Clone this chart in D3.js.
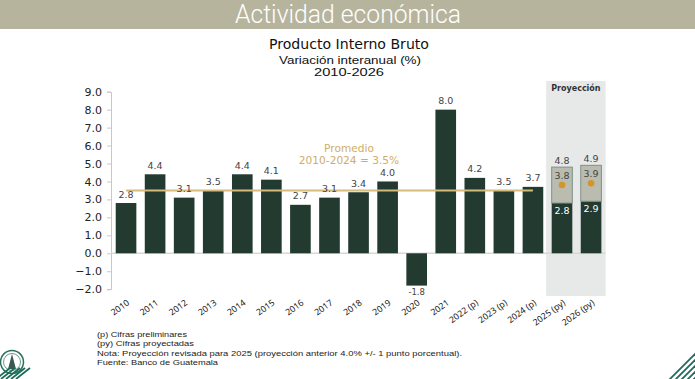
<html lang="es">
<head>
<meta charset="utf-8">
<title>PIB Guatemala</title>
<script src="https://d3js.org/d3.v7.min.js"></script>
<style>
  body { margin: 0; background: #fff; }
  svg text { font-family: "DejaVu Sans", "Noto Sans", sans-serif; }
</style>
</head>
<body>
<div class="chart"></div>
<script>
// data
var years = ["2010","2011","2012","2013","2014","2015","2016","2017","2018","2019","2020","2021","2022 (p)","2023 (p)","2024 (p)","2025 (py)","2026 (py)"];
var values = [2.8, 4.4, 3.1, 3.5, 4.4, 4.1, 2.7, 3.1, 3.4, 4.0, -1.8, 8.0, 4.2, 3.5, 3.7, 2.8, 2.9];
var projYears = ["2025 (py)", "2026 (py)"];
var projLow = [2.8, 2.9];
var projMid = [3.8, 3.9];
var projHigh = [4.8, 4.9];
var yTicks = [-2, -1, 0, 1, 2, 3, 4, 5, 6, 7, 8, 9];
var promedio = 3.5;
var notas = [
  "(p) Cifras preliminares",
  "(py) Cifras proyectadas",
  "Nota: Proyección revisada para 2025 (proyección anterior 4.0% +/- 1 punto porcentual).",
  "Fuente: Banco de Guatemala"
];
var notasAncho = [90, 97, 365, 121];

var width = 695, height = 379;
var svg = d3.select(".chart").append("svg")
  .attr("width", width).attr("height", height);

// header band
svg.append("rect").attr("x", 0).attr("y", 0).attr("width", width).attr("height", 29)
  .attr("fill", "#b7b49e");
svg.append("text").attr("x", 348).attr("y", 23)
  .attr("text-anchor", "middle").attr("fill", "#fff")
  .attr("font-size", 25).attr("font-weight", 300)
  .style("font-family", "Roboto, sans-serif")
  .attr("textLength", 226).attr("lengthAdjust", "spacingAndGlyphs")
  .text("Actividad económica");

// titles
svg.append("text").attr("x", 349).attr("y", 49).attr("text-anchor", "middle")
  .attr("font-size", 13.5).attr("fill", "#111")
  .attr("textLength", 160).attr("lengthAdjust", "spacingAndGlyphs")
  .text("Producto Interno Bruto");
svg.append("text").attr("x", 350).attr("y", 63.5).attr("text-anchor", "middle")
  .attr("font-size", 10.2).attr("fill", "#111")
  .style("font-family", "Liberation Sans, Arial, sans-serif")
  .attr("textLength", 142).attr("lengthAdjust", "spacingAndGlyphs")
  .text("Variación interanual (%)");
svg.append("text").attr("x", 349).attr("y", 75.5).attr("text-anchor", "middle")
  .attr("font-size", 10.2).attr("fill", "#111")
  .style("font-family", "Liberation Sans, Arial, sans-serif")
  .attr("textLength", 70).attr("lengthAdjust", "spacingAndGlyphs")
  .text("2010-2026");

var x = d3.scaleBand().domain(years).range([111.5, 605.6])
  .paddingInner(0.29).paddingOuter(0.145);
var y = d3.scaleLinear().domain([-2, 9]).range([289.2, 91.7]);

// projection shading
var shadeX = x(projYears[0]) - x.step() * 0.19;
svg.append("rect")
  .attr("x", shadeX).attr("y", y(9.6))
  .attr("width", 605.6 - shadeX).attr("height", y(-2.38) - y(9.6))
  .attr("fill", "#e6e9e8");
svg.append("text").attr("x", (shadeX + 605.6) / 2).attr("y", 91)
  .attr("text-anchor", "middle").attr("font-size", 8).attr("font-weight", 600)
  .attr("fill", "#333").text("Proyección");

// y axis
var yAxis = svg.append("g").attr("transform", "translate(111,0)")
  .call(d3.axisLeft(y).tickValues(yTicks).tickFormat(d3.format(".1f")).tickSize(4));
yAxis.select(".domain").attr("stroke", "#c8c8c8");
yAxis.selectAll(".tick line").attr("stroke", "#c8c8c8");
yAxis.selectAll(".tick text").attr("font-size", 11).attr("fill", "#222")
  .style("font-family", "DejaVu Sans, sans-serif").attr("x", -9);

// zero line
svg.append("line").attr("x1", 111).attr("x2", 605.6)
  .attr("y1", y(0)).attr("y2", y(0)).attr("stroke", "#d8d8d8").attr("stroke-width", 1.5);

// bars
svg.selectAll(".bar").data(years).enter().append("rect")
  .attr("class", "bar")
  .attr("x", function(d) { return x(d); })
  .attr("width", x.bandwidth())
  .attr("y", function(d, i) { return y(Math.max(0, values[i])); })
  .attr("height", function(d, i) { return Math.abs(y(values[i]) - y(0)); })
  .attr("fill", "#223a30");

// projection range boxes
svg.selectAll(".proj").data(projYears).enter().append("rect")
  .attr("class", "proj")
  .attr("x", function(d) { return x(d); })
  .attr("width", x.bandwidth())
  .attr("y", function(d, i) { return y(projHigh[i]); })
  .attr("height", function(d, i) { return y(projLow[i]) - y(projHigh[i]); })
  .attr("fill", "#b9bcae").attr("stroke", "#7f918a").attr("stroke-width", 1);
svg.selectAll(".dot").data(projYears).enter().append("circle")
  .attr("cx", function(d) { return x(d) + x.bandwidth() / 2; })
  .attr("cy", function(d, i) { return y(projMid[i]); })
  .attr("r", 3.3).attr("fill", "#d4962a");

// average line
svg.append("line")
  .attr("x1", x(years[0]) + x.bandwidth() / 2).attr("x2", x("2024 (p)") + x.bandwidth() / 2)
  .attr("y1", y(promedio)).attr("y2", y(promedio))
  .attr("stroke", "#d6bb7c").attr("stroke-width", 2);
svg.append("text").attr("x", 349).attr("y", 152).attr("text-anchor", "middle")
  .attr("font-size", 10.6).attr("fill", "#cfae68").text("Promedio");
svg.append("text").attr("x", 349).attr("y", 163.5).attr("text-anchor", "middle")
  .attr("font-size", 10.6).attr("fill", "#cfae68").text("2010-2024 = 3.5%");

// value labels
years.forEach(function(d, i) {
  if (projYears.indexOf(d) >= 0) return;
  svg.append("text")
    .attr("x", x(d) + x.bandwidth() / 2)
    .attr("y", values[i] >= 0 ? y(values[i]) - 5.5 : y(values[i]) + 9.5)
    .attr("text-anchor", "middle").attr("font-size", values[i] >= 0 ? 9.5 : 8.5).attr("fill", "#444")
    .text(values[i].toFixed(1));
});
projYears.forEach(function(d, i) {
  var cx = x(d) + x.bandwidth() / 2;
  svg.append("text").attr("x", cx).attr("y", y(projHigh[i]) - 3)
    .attr("text-anchor", "middle").attr("font-size", 9.5).attr("fill", "#444")
    .text(projHigh[i].toFixed(1));
  svg.append("text").attr("x", cx).attr("y", y(projMid[i]) - 6)
    .attr("text-anchor", "middle").attr("font-size", 9.5).attr("fill", "#444")
    .text(projMid[i].toFixed(1));
  svg.append("text").attr("x", cx).attr("y", y(projLow[i]) + 10.5)
    .attr("text-anchor", "middle").attr("font-size", 9.5).attr("fill", "#fff")
    .text(projLow[i].toFixed(1));
});

// x labels rotated
svg.selectAll(".xl").data(years).enter().append("text")
  .attr("class", "xl")
  .attr("transform", function(d) {
    return "translate(" + (x(d) + x.bandwidth() / 2 + 4) + ",304) rotate(-36)";
  })
  .attr("text-anchor", "end").attr("font-size", 8.8).attr("fill", "#222")
  .style("font-family", "Noto Sans, sans-serif")
  .text(function(d) { return d; });

// notes
svg.selectAll(".nota").data(notas).enter().append("text")
  .attr("class", "nota")
  .attr("x", 97).attr("y", function(d, i) { return 337 + i * 9.4; })
  .attr("font-size", 8.1).attr("fill", "#222")
  .style("font-family", "Liberation Sans, Arial, sans-serif")
  .attr("textLength", function(d, i) { return notasAncho[i]; })
  .attr("lengthAdjust", "spacingAndGlyphs")
  .text(function(d) { return d; });

// logo (seal) and corner stripes
var logo = svg.append("g").attr("transform", "translate(12,362)");
logo.append("circle").attr("r", 11.5).attr("fill", "#fff").attr("stroke", "#2a6f5c").attr("stroke-width", 1.5);
logo.append("circle").attr("r", 8.5).attr("fill", "none").attr("stroke", "#2a6f5c").attr("stroke-width", 0.7);
logo.append("path").attr("d", "M-4,7 L0,-8 L4,7 Z").attr("fill", "#3a5a50");
var stripes = svg.append("g");
[0, 1, 2, 3, 4].forEach(function(k) {
  stripes.append("line")
    .attr("x1", -4 + k * 5).attr("y1", 379)
    .attr("x2", 10 + k * 5).attr("y2", 368)
    .attr("stroke", "#1f6b5a").attr("stroke-width", 1.8);
  stripes.append("line")
    .attr("x1", 668 + k * 6).attr("y1", 381)
    .attr("x2", 700 + k * 6).attr("y2", 349)
    .attr("stroke", "#1f6b5a").attr("stroke-width", 1.8);
});
</script>
</body>
</html>
